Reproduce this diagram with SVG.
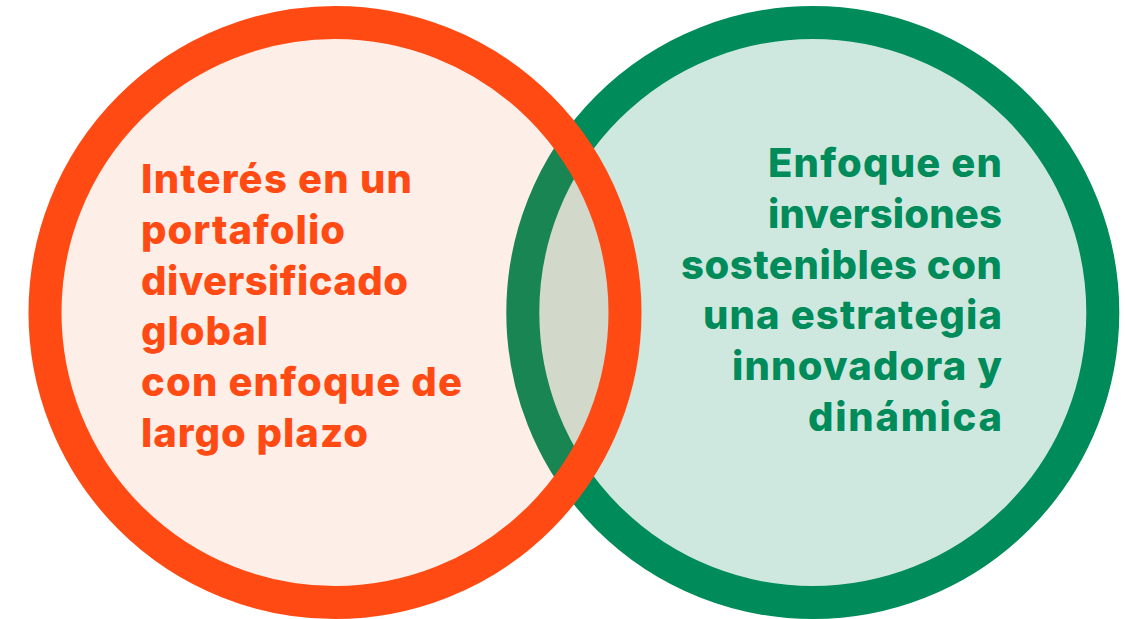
<svg xmlns="http://www.w3.org/2000/svg" width="1125" height="619" viewBox="0 0 1125 619">
<style>
.t{font-family:Inter,"Open Sans","Liberation Sans",sans-serif;font-weight:800;font-size:40px}
.o{fill:#FF4A14}
.g{fill:#008B5A;text-anchor:end}
</style>
<rect width="1125" height="619" fill="#FFFFFF"/>
<g id="green-circle">
<circle cx="812.8" cy="312.5" r="290" fill="#CEE8DF" stroke="#008B5A" stroke-width="33"/>
</g>
<g id="orange-circle">
<circle cx="335" cy="312.5" r="290" fill="#F5561E" fill-opacity="0.1" stroke="none"/>
<circle cx="335" cy="312.5" r="290" fill="none" stroke="#FF4A14" stroke-width="33"/>
</g>
<g id="left-text" class="t o">
<text x="141" y="192.7" textLength="271" lengthAdjust="spacing">Interés en un</text>
<text x="141" y="243.6" textLength="204" lengthAdjust="spacing">portafolio</text>
<text x="141" y="294.5" textLength="267" lengthAdjust="spacing">diversificado</text>
<text x="141" y="345.4" textLength="127" lengthAdjust="spacing">global</text>
<text x="141" y="396.3" textLength="321" lengthAdjust="spacing">con enfoque de</text>
<text x="141" y="447.2" textLength="227" lengthAdjust="spacing">largo plazo</text>
</g>
<g id="right-text" class="t g">
<text x="1002" y="176.7" textLength="234" lengthAdjust="spacing">Enfoque en</text>
<text x="1002" y="227.6" textLength="234" lengthAdjust="spacing">inversiones</text>
<text x="1002" y="278.5" textLength="321" lengthAdjust="spacing">sostenibles con</text>
<text x="1002" y="329.4" textLength="299" lengthAdjust="spacing">una estrategia</text>
<text x="1002" y="380.3" textLength="270" lengthAdjust="spacing">innovadora y</text>
<text x="1002" y="431.2" textLength="194" lengthAdjust="spacing">dinámica</text>
</g>
</svg>
